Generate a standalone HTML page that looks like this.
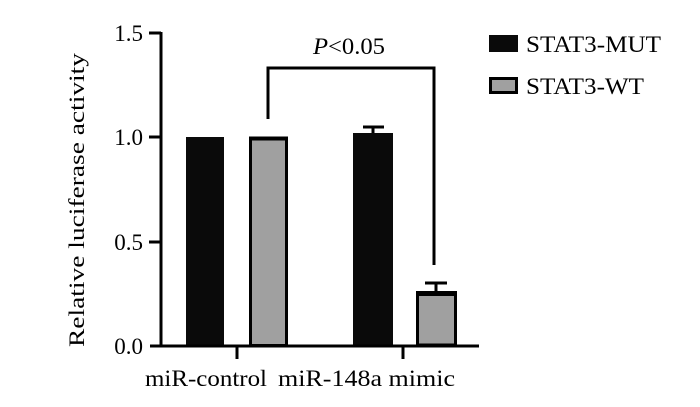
<!DOCTYPE html>
<html><head><meta charset="utf-8"><style>body{margin:0;background:#fff} svg text{font-family:"Liberation Serif","Times New Roman",serif;}</style></head>
<body>
<svg width="700" height="402" viewBox="0 0 700 402" xmlns="http://www.w3.org/2000/svg" style="font-family:'Liberation Serif',serif" fill="#000">
<rect width="700" height="402" fill="#fff"/>
<!-- bars -->
<rect x="186" y="137" width="38" height="208" fill="#0a0a0a"/>
<rect x="250.5" y="138.5" width="36" height="207" fill="#a0a0a0" stroke="#000" stroke-width="3"/>
<line x1="249" y1="138.5" x2="288" y2="138.5" stroke="#000" stroke-width="4"/>
<rect x="353" y="133" width="40" height="212" fill="#0a0a0a"/>
<line x1="373" y1="133" x2="373" y2="127" stroke="#000" stroke-width="3"/>
<line x1="363" y1="127" x2="384" y2="127" stroke="#000" stroke-width="3"/>
<rect x="417.5" y="293" width="38" height="52" fill="#a0a0a0" stroke="#000" stroke-width="3"/>
<line x1="416" y1="293.5" x2="457" y2="293.5" stroke="#000" stroke-width="5"/>
<line x1="436" y1="291" x2="436" y2="283" stroke="#000" stroke-width="3"/>
<line x1="425" y1="283" x2="447" y2="283" stroke="#000" stroke-width="3"/>
<!-- axes -->
<line x1="161" y1="32" x2="161" y2="347" stroke="#000" stroke-width="3"/>
<line x1="150" y1="346" x2="479" y2="346" stroke="#000" stroke-width="3"/>
<g stroke="#000" stroke-width="3">
<line x1="149" y1="33" x2="161" y2="33"/>
<line x1="149" y1="137" x2="161" y2="137"/>
<line x1="149" y1="242" x2="161" y2="242"/>
<line x1="237" y1="346" x2="237" y2="359"/>
<line x1="403" y1="346" x2="403" y2="359"/>
</g>
<g font-size="23" text-anchor="end">
<text x="143" y="41">1.5</text>
<text x="143" y="145">1.0</text>
<text x="143" y="250">0.5</text>
<text x="143" y="354">0.0</text>
</g>
<g font-size="23">
<text x="145" y="386" textLength="122" lengthAdjust="spacingAndGlyphs">miR-control</text>
<text x="278" y="386" textLength="177" lengthAdjust="spacingAndGlyphs">miR-148a mimic</text>
</g>
<text transform="translate(84,200) rotate(-90)" font-size="22" text-anchor="middle" textLength="294" lengthAdjust="spacingAndGlyphs">Relative luciferase activity</text>
<!-- bracket -->
<polyline points="268,119 268,68 434,68 434,265" fill="none" stroke="#000" stroke-width="3"/>
<text x="313" y="54" font-size="23" textLength="72" lengthAdjust="spacingAndGlyphs"><tspan font-style="italic">P</tspan>&lt;0.05</text>
<!-- legend -->
<rect x="489" y="35" width="29" height="17" fill="#0a0a0a"/>
<rect x="490.5" y="78.5" width="26" height="14" fill="#a0a0a0" stroke="#000" stroke-width="3"/>
<text x="526" y="52" font-size="23" textLength="135" lengthAdjust="spacingAndGlyphs">STAT3-MUT</text>
<text x="526" y="94" font-size="23" textLength="118" lengthAdjust="spacingAndGlyphs">STAT3-WT</text>
</svg>
</body></html>
